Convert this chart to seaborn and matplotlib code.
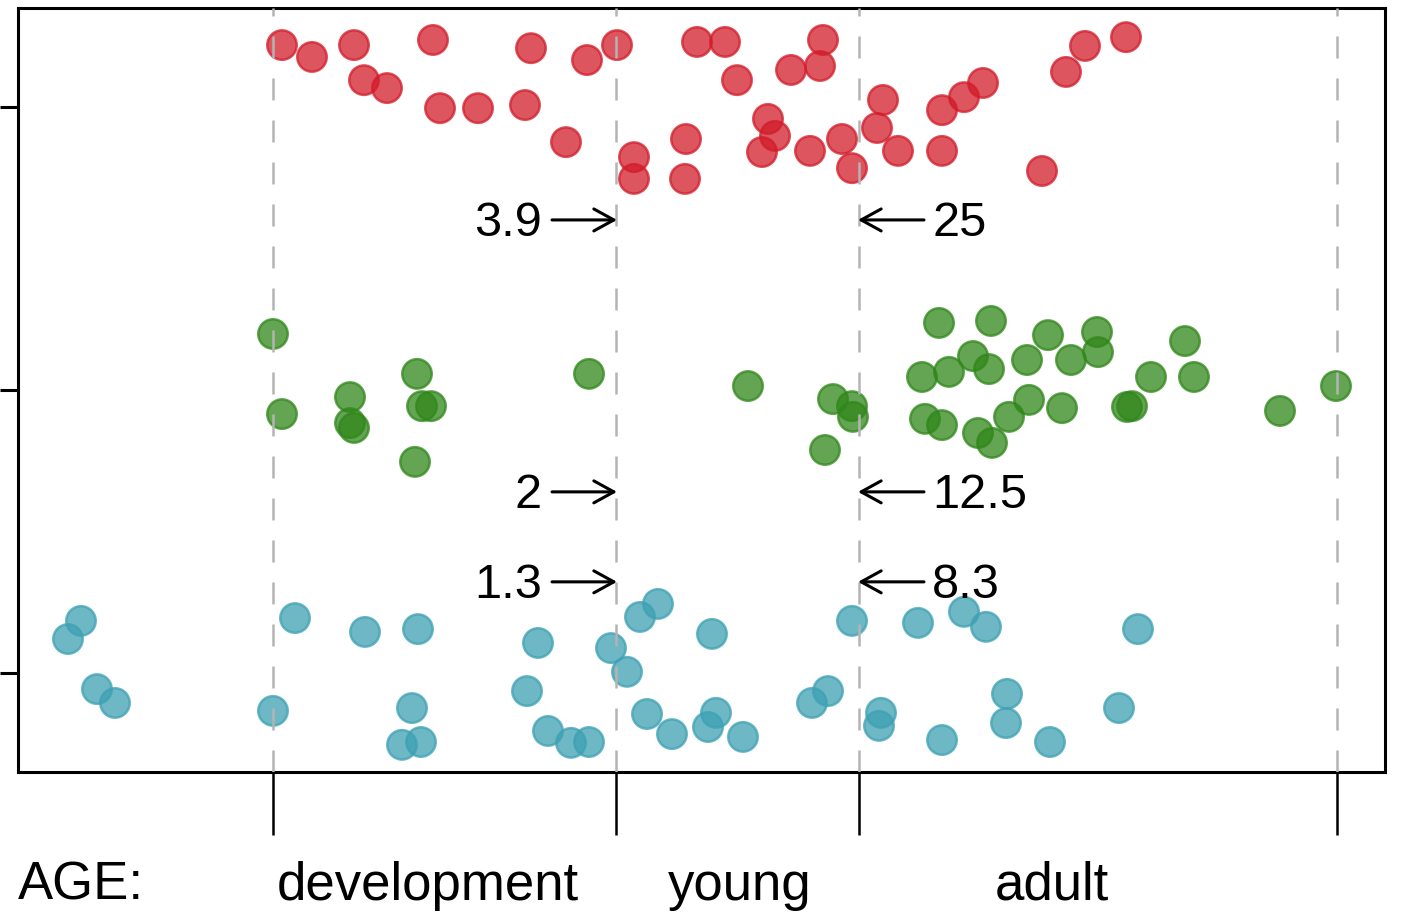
import numpy as np
import pandas as pd
import matplotlib
matplotlib.use("Agg")
import matplotlib.pyplot as plt
import matplotlib.transforms as mtransforms
import seaborn as sns

# ---- data -------------------------------------------------------------
# relative-age position of each individual (x) and its vertical spread
# within its row (dy, in row units)
row1_x = [0.09, 0.39, 0.81, 0.91, 1.14, 1.60, 1.67, 2.05, 2.52, 2.58,
          2.93, 3.14, 3.44, 3.61, 3.61, 4.12, 4.13, 4.24, 4.52, 4.64,
          4.89, 4.95, 5.02, 5.18, 5.37, 5.47, 5.50, 5.69, 5.79, 6.04,
          6.10, 6.25, 6.69, 6.69, 6.91, 7.10, 7.69, 7.93, 8.12, 8.53]
row1_dy = [-0.219, -0.177, -0.219, -0.095, -0.067, -0.237, 0.004, 0.004, -0.007, -0.208,
           0.124, -0.166, -0.219, 0.177, 0.254, 0.254, 0.113, -0.230, -0.230, -0.095,
           0.159, 0.042, 0.102, -0.131, 0.155, -0.145, -0.237, 0.113, 0.216, 0.074,
           -0.025, 0.155, 0.011, 0.155, -0.035, -0.085, 0.226, -0.124, -0.216, -0.247]

row2_x = [0.00, 0.09, 0.77, 0.77, 0.81, 1.42, 1.44, 1.49, 1.58, 3.16,
          4.75, 5.52, 5.60, 5.79, 5.80, 6.49, 6.52, 6.66, 6.69, 6.76,
          7.00, 7.05, 7.16, 7.18, 7.19, 7.36, 7.54, 7.56, 7.75, 7.89,
          7.98, 8.24, 8.25, 8.54, 8.59, 8.78, 9.12, 9.21, 10.07, 10.63]
row2_dy = [-0.198, 0.085, 0.025, 0.117, 0.134, 0.254, -0.057, 0.057, 0.057, -0.057,
           -0.014, 0.212, 0.032, 0.057, 0.095, -0.046, 0.102, -0.237, 0.124, -0.064,
           -0.120, 0.152, -0.074, -0.244, 0.187, 0.095, -0.106, 0.035, -0.194, 0.064,
           -0.106, -0.205, -0.134, 0.060, 0.057, -0.046, -0.173, -0.046, 0.074, -0.014]

row3_x = [-2.05, -1.92, -1.76, -1.58, 0.00, 0.22, 0.92, 1.29, 1.39, 1.45,
          1.48, 2.54, 2.65, 2.75, 2.98, 3.16, 3.38, 3.54, 3.67, 3.74,
          3.85, 3.99, 4.35, 4.39, 4.43, 4.70, 5.39, 5.55, 5.79, 6.06,
          6.08, 6.45, 6.69, 6.91, 7.13, 7.33, 7.34, 7.77, 8.46, 8.65]
row3_dy = [-0.120, -0.184, 0.057, 0.106, 0.134, -0.194, -0.145, 0.254, 0.124, -0.155,
           0.244, 0.064, -0.106, 0.205, 0.247, 0.244, -0.088, -0.004, -0.198, 0.145,
           -0.244, 0.216, 0.191, -0.138, 0.141, 0.226, 0.106, 0.064, -0.184, 0.187,
           0.141, -0.177, 0.237, -0.216, -0.163, 0.177, 0.074, 0.244, 0.124, -0.155]

groups = ["row1", "row2", "row3"]
colors = ["#D21C2A", "#30871A", "#3DA1B3"]

# life-stage boundaries on the relative-age axis
stage_bounds = [0.0, 3.43, 5.86, 10.64]
stage_names = ["development", "young", "adult"]
stage_label_x = [1.55, 4.67, 7.79]

# ages (per row) at the young / adult boundaries
left_values = ["3.9", "2", "1.3"]
right_values = ["25", "12.5", "8.3"]
arrow_rows = [0.399, 1.360, 1.678]

# ---- frame ------------------------------------------------------------
frames = []
for i, (g, xs, dys) in enumerate(zip(groups,
                                     [row1_x, row2_x, row3_x],
                                     [row1_dy, row2_dy, row3_dy])):
    frames.append(pd.DataFrame({"x": xs,
                                "y": i + np.asarray(dys),
                                "group": g}))
df = pd.concat(frames, ignore_index=True)

sns.set_theme(style="white")
plt.rcParams["font.family"] = ["Liberation Sans", "DejaVu Sans"]

W, H = 1402, 916
fig = plt.figure(figsize=(W / 100, H / 100), dpi=100)
ax = fig.add_axes([18 / W, 1 - 772 / H, (1385 - 18) / W, (772 - 8) / H])

sns.scatterplot(data=df, x="x", y="y", hue="group", palette=colors,
                hue_order=groups, s=450, alpha=0.75, edgecolor="face",
                linewidth=1.8, legend=False, ax=ax, zorder=2)

for b in stage_bounds:
    ax.axvline(b, color="#B4B4B4", lw=1.8, ls=(0, (8.8, 8.0)), zorder=3)

ax.set_xlim(-2.55, 11.12)
ax.set_ylim(2.35, -0.35)

ax.set_xticks(stage_bounds)
ax.set_xticklabels([])
ax.set_yticks([0, 1, 2])
ax.set_yticklabels([])
ax.set_xlabel("")
ax.set_ylabel("")
ax.tick_params(axis="x", direction="out", length=45, width=1.8,
               color="black", bottom=True)
ax.tick_params(axis="y", direction="out", length=13, width=2.2,
               color="black", left=True)
for sp in ax.spines.values():
    sp.set_color("black")
    sp.set_linewidth(2.2)

# arrows marking the young / adult boundary ages
young_b, adult_b = stage_bounds[1], stage_bounds[2]
for lv, rv, yy in zip(left_values, right_values, arrow_rows):
    aprops = dict(arrowstyle="->,head_length=0.6,head_width=0.33",
                  lw=2.2, color="black", mutation_scale=24,
                  shrinkA=0, shrinkB=0)
    ax.annotate("", xy=(young_b + 0.01, yy), xytext=(young_b - 0.64, yy),
                arrowprops=aprops, zorder=4)
    ax.annotate("", xy=(adult_b - 0.01, yy), xytext=(adult_b + 0.65, yy),
                arrowprops=aprops, zorder=4)
    ax.text(young_b - 0.74, yy + 0.058, lv, ha="right", va="baseline",
            fontsize=35, color="black", zorder=4)
    ax.text(adult_b + 0.73, yy + 0.058, rv, ha="left", va="baseline",
            fontsize=35, color="black", zorder=4)

# stage labels under the axis
blend = mtransforms.blended_transform_factory(ax.transData, ax.transAxes)
ax.text(0.0, -0.1675, "AGE:", transform=ax.transAxes, ha="left",
        va="baseline", fontsize=38, color="black")
for name, lx in zip(stage_names, stage_label_x):
    ax.text(lx, -0.1675, name, transform=blend, ha="center",
            va="baseline", fontsize=38, color="black")

fig.savefig("out.png", dpi=100)
